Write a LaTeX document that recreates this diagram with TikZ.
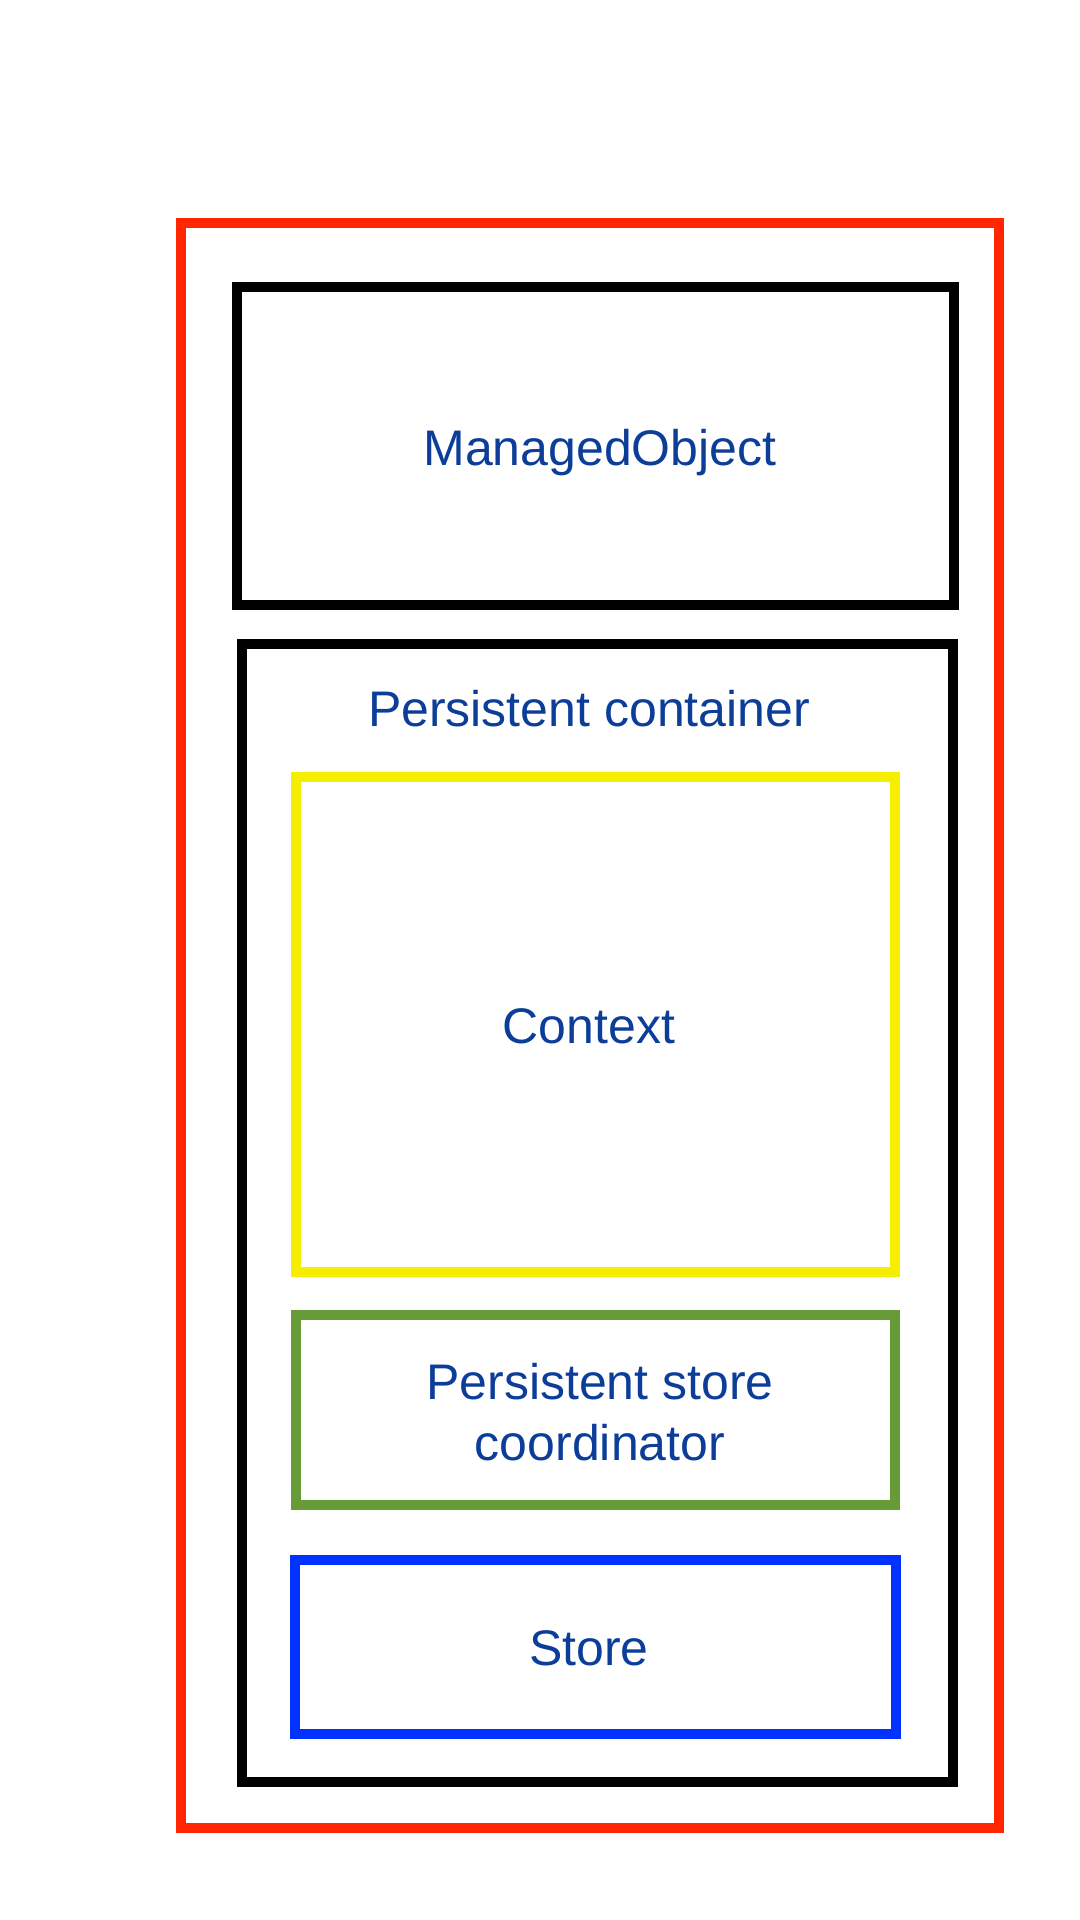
\documentclass[tikz,border=0pt]{standalone}
\usepackage{fontspec}
\setmainfont{Liberation Sans}
\usetikzlibrary{positioning}
\definecolor{outerred}{HTML}{FF2600}
\definecolor{ctxyellow}{HTML}{F5EE00}
\definecolor{coordgreen}{HTML}{669B38}
\definecolor{storeblue}{HTML}{0033FF}
\definecolor{labelblue}{HTML}{0B3D99}

\begin{document}
\begin{tikzpicture}[x=0.5pt, y=-0.5pt,
    frame/.style={line width=5pt, line join=miter},
    lbl/.style={text=labelblue, font=\fontsize{25}{30.5}\selectfont, align=center, inner sep=0pt}]
    \useasboundingbox (0,0) rectangle (1080,1920);
    % outer and containers
    \draw[frame, outerred] (181,223) rectangle (999,1828);
    \draw[frame, black] (237,287) rectangle (954,605);
    \draw[frame, black] (242,644) rectangle (953,1782);
    % inner boxes
    \draw[frame, ctxyellow] (296,777) rectangle (895,1272);
    \draw[frame, coordgreen] (296,1315) rectangle (895,1505);
    \draw[frame, storeblue] (295,1560) rectangle (896,1734);
    % labels
    \node[lbl] (managed) at (600,453) {ManagedObject};
    \node[lbl] (container) at (589,709) {Persistent container};
    \node[lbl] (context) at (589,1026) {Context};
    \node[lbl] (coordinator) at (600,1412) {Persistent store\\coordinator};
    \node[lbl] (store) at (589,1648) {Store};
\end{tikzpicture}
\end{document}
